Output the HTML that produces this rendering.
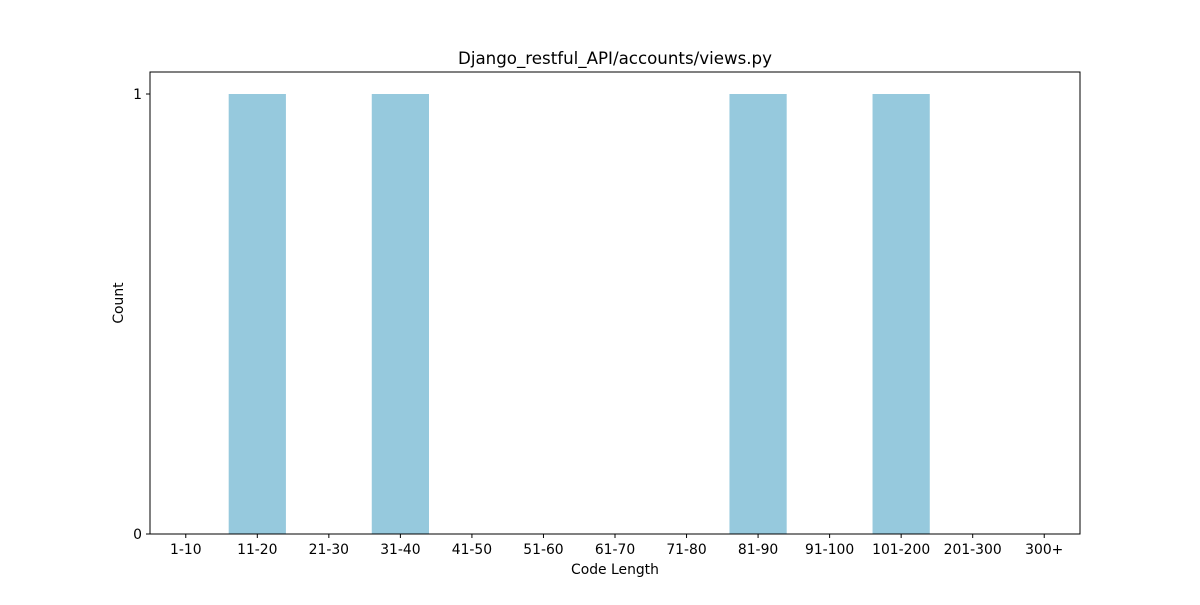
<!DOCTYPE html>
<html><head><meta charset="utf-8"><style>
body{margin:0;background:#fff;font-family:"Liberation Sans","DejaVu Sans",sans-serif;}
text{font-family:"DejaVu Sans","Liberation Sans",sans-serif;}
</style></head><body>
<svg id="chart" width="1200" height="600" xmlns="http://www.w3.org/2000/svg"></svg>
<script>
const categories=["1-10","11-20","21-30","31-40","41-50","51-60","61-70","71-80","81-90","91-100","101-200","201-300","300+"];
const counts=[0,1,0,1,0,0,0,0,1,0,1,0,0];
const yTicks=[0,1];
const L=150,R=1080,T=72,B=534,yMax=1.05;
const svg=document.getElementById('chart');
const NS='http://www.w3.org/2000/svg';
const step=(R-L)/categories.length;
const xc=i=>L+(i+0.5)*step;
const y=v=>B-(v/yMax)*(B-T);
function mk(tag,attrs,txt){const e=document.createElementNS(NS,tag);for(const k in attrs)e.setAttribute(k,attrs[k]);if(txt!==undefined)e.textContent=txt;svg.appendChild(e);return e;}
const bg=mk('rect',{x:0,y:0,width:1200,height:600,fill:'#fff'});


counts.forEach((v,i)=>{
  const w=step*0.8;
  const r=mk('rect',{x:xc(i)-w/2,y:y(v),width:w,height:B-y(v),fill:'#96c9dd'});
  
  
});
const frame=mk('rect',{x:L,y:T,width:R-L,height:B-T,fill:'none',stroke:'#000','stroke-width':1});


categories.forEach((c,i)=>{
  const t=mk('line',{x1:xc(i),x2:xc(i),y1:B,y2:B+4,stroke:'#000'});
  
  
  const l=mk('text',{x:xc(i),y:B+20,'font-size':13.9,'text-anchor':'middle'},c);
  
  
});
yTicks.forEach(v=>{
  const t=mk('line',{x1:L-4,x2:L,y1:y(v),y2:y(v),stroke:'#000'});
  
  
  const l=mk('text',{x:L-8,y:y(v)+5,'font-size':13.9,'text-anchor':'end'},String(v));
  
  
});
const xt=mk('text',{x:(L+R)/2,y:574,'font-size':13.9,'text-anchor':'middle'},'Code Length');


const yt=mk('text',{x:123,y:(T+B)/2,'font-size':13.9,'text-anchor':'middle',transform:`rotate(-90 123 ${(T+B)/2})`},'Count');


const ti=mk('text',{x:(L+R)/2,y:64,'font-size':16.67,'text-anchor':'middle'},'Django_restful_API/accounts/views.py');


</script>
</body></html>
